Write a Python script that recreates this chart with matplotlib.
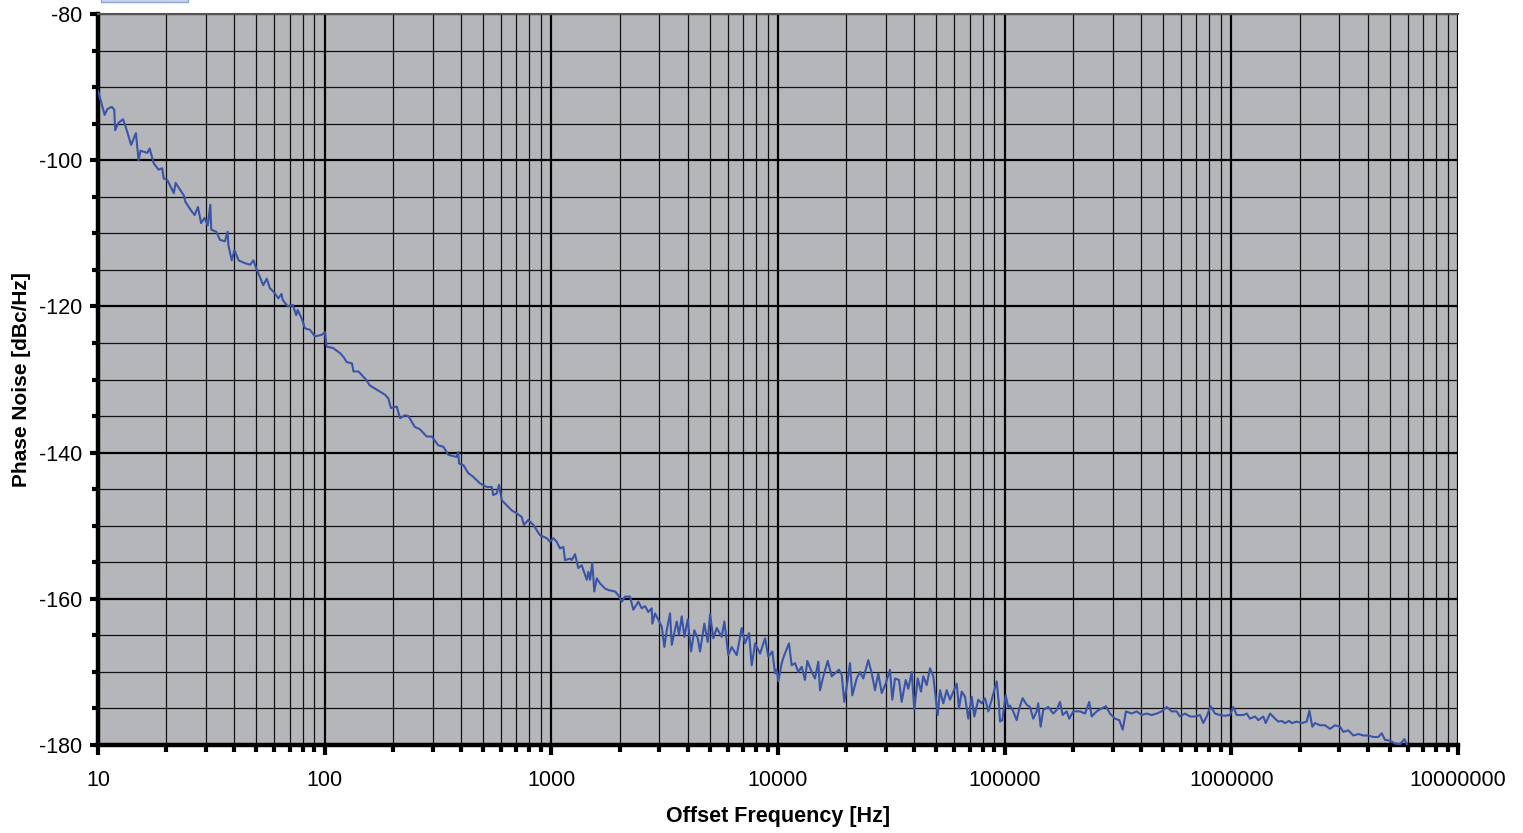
import matplotlib
matplotlib.use("Agg")
import matplotlib.pyplot as plt
from matplotlib.ticker import FixedLocator, MultipleLocator, FuncFormatter, NullFormatter
from matplotlib.patches import Rectangle

plt.rcParams['font.family'] = ['Liberation Sans', 'DejaVu Sans']
plt.rcParams['axes.unicode_minus'] = False

freq_hz = [
    10.0, 10.7, 11.0, 11.5, 11.8, 11.9, 12.3, 12.9, 13.3, 14.0, 14.7, 15.1, 15.4,
    16.5, 16.9, 17.6, 18.5, 19.2, 19.5, 20.2, 21.6, 22.0, 23.9, 24.3, 25.9, 26.7,
    27.6, 28.5, 29.5, 30.5, 31.3, 31.6, 33.3, 34.5, 36.3, 37.3, 37.6, 38.9, 40.0,
    41.7, 44.6, 46.9, 48.5, 50.2, 53.6, 55.5, 57.3, 60.3, 62.4, 64.5, 65.3, 68.7,
    72.3, 74.9, 76.0, 79.1, 81.8, 86.1, 90.6, 96.9, 100.3,
    102, 109, 117, 121, 125, 132, 134, 141, 153, 158, 170, 185, 191, 196, 208,
    215, 226, 234, 250, 263, 282, 297, 317, 334, 351, 382, 388, 392, 409, 430,
    452, 484, 519, 546, 554, 574, 588, 604, 635, 668, 703, 740, 757, 791, 833,
    891, 954, 986,
    1020, 1056, 1092, 1130, 1149, 1209, 1230, 1272, 1315, 1362, 1433, 1456, 1482,
    1516, 1547, 1586, 1640, 1726, 1784, 1910, 1975, 2045, 2114, 2225, 2300, 2420,
    2505, 2591, 2679, 2773, 2790, 2868, 3070, 3152, 3230, 3340, 3399, 3574, 3659,
    3761, 3863, 3998, 4134, 4274, 4425, 4529, 4732, 4898, 5013, 5185, 5367, 5646,
    5797, 6037, 6250, 6577, 6918, 7153, 7450, 7658, 7921, 8335, 8768, 9067, 9441,
    9703, 9870,
    10035, 10380, 10660, 11180, 11490, 11890, 12290, 12720, 13150, 13470, 14080,
    14560, 15060, 15320, 15850, 16570, 17260, 17840, 18580, 19100, 19610, 20100,
    20780, 21270, 22250, 23000, 23780, 25030, 25910, 26790, 27700, 28680, 29870,
    31200, 31940, 32820, 34180, 35130, 36590, 37570, 38900, 39930, 41340, 42740,
    43750, 45290, 46840, 48430, 50650, 51850, 53620, 55500, 57380, 59340, 61430,
    62870, 64650, 66830, 69130, 71530, 73450, 76490, 79210, 81900, 84690, 87680,
    92230, 94410, 95370, 97630,
    101000, 103700, 105500, 109100, 113000, 116000, 120000, 125100, 129300,
    133700, 138400, 140600, 144100, 148000, 155700, 163800, 169600, 175400,
    180300, 187700, 192800, 200700, 214900, 226200, 236200, 242000, 254600,
    267900, 279900, 291500, 306600, 320400, 331700, 342800, 363400, 382300,
    402200, 423100, 445100, 468400, 492700, 518500, 545500, 573800, 593400,
    624500, 657000, 691300, 727300, 751700, 778300, 810700, 846900, 891100,
    937400, 986200,
    1020000, 1056000, 1130000, 1169000, 1209000, 1272000, 1315000, 1384000,
    1418000, 1482000, 1559000, 1612000, 1669000, 1726000, 1797000, 1847000,
    1943000, 2045000, 2151000, 2209000, 2277000, 2340000, 2462000, 2591000,
    2726000, 2868000, 3017000, 3120000, 3282000, 3452000, 3634000, 3823000,
    4022000, 4231000, 4451000, 4609000, 4765000, 5013000, 5275000, 5550000,
    5797000, 6002000,
]
phase_noise = [
    -90.5, -93.8, -93.0, -92.7, -93.1, -95.9, -94.9, -94.4, -95.6, -97.9, -96.3, -100.0, -98.7,
    -99.0, -98.4, -100.4, -101.3, -101.1, -102.5, -102.7, -104.5, -103.1, -104.8, -105.7, -107.0, -107.5,
    -106.4, -108.6, -107.9, -108.9, -106.1, -109.5, -109.8, -110.9, -111.1, -109.8, -111.6, -113.7, -112.3,
    -113.7, -114.1, -114.3, -113.7, -115.0, -117.1, -116.2, -117.5, -118.2, -118.9, -118.3, -119.1, -120.0,
    -119.8, -121.2, -120.5, -121.6, -123.0, -123.2, -124.1, -123.9, -123.5,
    -125.5, -125.7, -126.4, -126.9, -127.6, -127.8, -128.9, -128.9, -130.1, -130.8, -131.4, -132.1, -132.6, -133.9, -133.7,
    -135.3, -134.9, -135.0, -136.5, -136.8, -137.8, -137.8, -139.0, -139.2, -140.3, -140.6, -139.9, -141.5, -141.7, -142.8,
    -143.3, -144.2, -144.7, -144.7, -145.8, -145.6, -144.4, -146.5, -147.2, -147.9, -148.3, -148.8, -149.9, -149.2, -149.9,
    -151.3, -151.7, -152.2,
    -151.7, -152.2, -153.1, -152.9, -154.7, -154.5, -154.7, -153.9, -155.8, -155.4, -157.4, -156.3, -157.4,
    -155.1, -159.0, -157.2, -157.9, -158.6, -158.8, -159.0, -159.5, -160.4, -159.7, -159.7, -161.5, -160.4,
    -161.3, -161.0, -161.8, -161.3, -163.4, -162.0, -163.8, -166.6, -164.3, -162.0, -166.3, -163.1, -164.9,
    -162.4, -165.2, -162.8, -167.2, -164.3, -165.4, -167.2, -163.4, -165.9, -162.1, -165.4, -164.0, -165.2,
    -163.1, -167.7, -166.6, -167.7, -164.0, -166.1, -164.7, -169.1, -166.1, -167.5, -165.4, -167.9, -167.2,
    -170.2, -169.7,
    -171.3, -168.8, -167.7, -166.1, -169.1, -168.8, -170.0, -169.3, -171.1, -168.5, -170.0,
    -170.9, -168.6, -172.5, -170.6, -168.5, -170.6, -170.2, -169.7, -170.4, -174.1, -172.0,
    -168.8, -173.2, -170.9, -170.0, -170.9, -168.4, -170.2, -172.5, -170.2, -172.9, -171.6,
    -169.7, -173.8, -170.9, -171.1, -174.1, -171.1, -172.3, -170.0, -175.2, -170.9, -172.7,
    -170.6, -171.8, -169.5, -170.6, -175.9, -172.5, -174.3, -172.5, -173.8, -172.7, -171.6,
    -175.0, -172.7, -173.4, -176.4, -173.4, -176.1, -173.8, -174.3, -173.6, -175.4, -173.8,
    -171.3, -174.6, -176.8, -176.6,
    -173.2, -174.8, -174.6, -175.4, -176.6, -175.0, -173.6, -174.5, -174.8,
    -176.4, -175.4, -174.3, -177.5, -175.2, -174.8, -175.7, -175.2, -174.1,
    -175.9, -175.4, -176.4, -175.4, -175.4, -175.7, -174.1, -176.1, -175.4,
    -175.0, -174.7, -175.7, -176.4, -176.6, -177.9, -175.4, -175.7, -175.4,
    -175.9, -175.7, -175.9, -175.7, -175.4, -174.8, -175.4, -175.4, -176.1,
    -175.7, -176.1, -176.1, -175.9, -177.0, -176.1, -174.7, -175.7, -175.9,
    -176.0, -175.9,
    -174.8, -175.9, -175.9, -175.7, -176.4, -176.1, -176.6, -176.1,
    -177.0, -175.7, -176.4, -176.8, -176.7, -177.0, -176.7, -177.0,
    -176.8, -177.0, -176.8, -175.3, -177.5, -177.0, -177.3, -177.3,
    -177.8, -177.3, -177.5, -178.2, -178.0, -178.7, -178.5, -178.7,
    -178.7, -178.9, -178.9, -178.4, -179.3, -179.4, -179.8, -179.9,
    -179.2, -180.1,
]

decades = [10, 100, 1000, 10000, 100000, 1000000, 10000000]
sub_ticks = [d * k for d in decades[:-1] for k in range(2, 10)]

fig = plt.figure(figsize=(15.23, 8.33), dpi=100)
ax = fig.add_axes([98 / 1523, 88 / 833, 1360 / 1523, 731 / 833])
ax.set_facecolor('#b5b6ba')

ax.plot(freq_hz, phase_noise, color='#3a55a8', lw=1.5, zorder=3)

ax.set_xscale('log')
ax.set_xlim(10, 1e7)
ax.set_ylim(-180, -80)

ax.xaxis.set_major_locator(FixedLocator(decades))
ax.xaxis.set_minor_locator(FixedLocator(sub_ticks))
ax.xaxis.set_major_formatter(FuncFormatter(lambda v, p: f"{int(round(v))}"))
ax.xaxis.set_minor_formatter(NullFormatter())
ax.yaxis.set_major_locator(MultipleLocator(20))
ax.yaxis.set_minor_locator(MultipleLocator(5))

ax.grid(which='major', color='black', lw=1.6, zorder=1)
ax.grid(which='minor', color='#111111', lw=0.9, zorder=1)
ax.set_axisbelow(True)

for s in ['left', 'bottom']:
    ax.spines[s].set_linewidth(3.2)
    ax.spines[s].set_color('black')
ax.spines['top'].set_color('#555555')
ax.spines['top'].set_linewidth(1.5)
ax.spines['right'].set_visible(False)

ax.tick_params(which='both', direction='out', width=3, labelsize=15.5)
ax.tick_params(axis='y', which='major', length=5.5, pad=6)
ax.tick_params(axis='y', which='minor', length=4.5)
ax.tick_params(axis='x', which='major', length=7, pad=11)
ax.tick_params(axis='x', which='minor', length=5)

ax.set_xlabel('Offset Frequency [Hz]', fontsize=15.5, fontweight='bold')
ax.set_ylabel('Phase Noise [dBc/Hz]', fontsize=15, fontweight='bold')
ax.xaxis.set_label_coords(0.5, -0.084)
ax.yaxis.set_label_coords(-0.049, 0.5)

# clipped legend box peeking in at the top edge
fig.patches.append(Rectangle((101 / 1523, 831 / 833), 87 / 1523, 4 / 833,
                             transform=fig.transFigure, facecolor='#c8d4ee',
                             edgecolor='#8fa6d6', lw=1))

fig.savefig('out.png', dpi=100)
